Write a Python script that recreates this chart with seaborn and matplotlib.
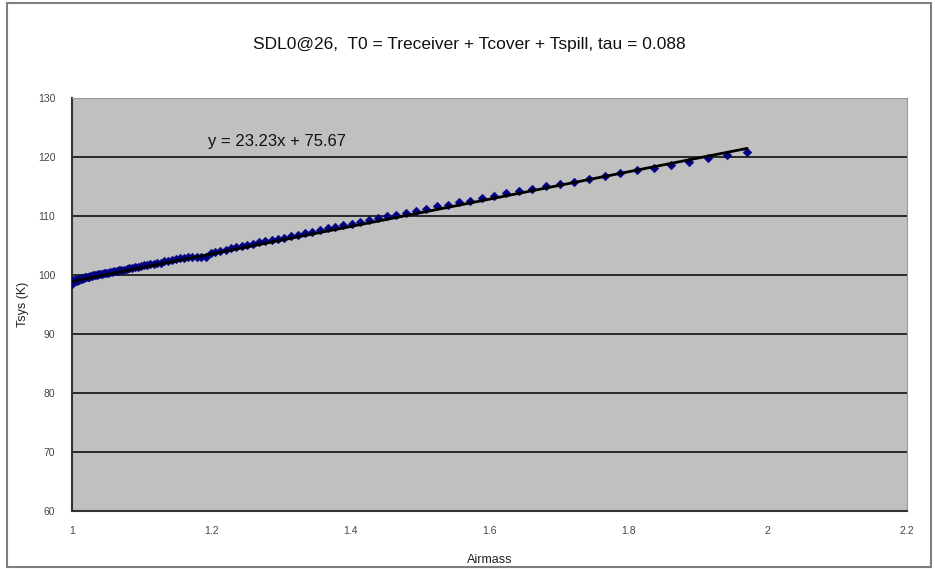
import matplotlib
matplotlib.use("Agg")
import matplotlib.pyplot as plt
import seaborn as sns
import pandas as pd
from matplotlib.patches import Rectangle

# ---- data ----
airmass = [
    1.00000, 1.00004, 1.00015, 1.00034, 1.00061, 1.00095, 1.00137, 1.00187, 1.00244, 1.00309,
    1.00382, 1.00463, 1.00551, 1.00647, 1.00751, 1.00863, 1.00983, 1.01111, 1.01247, 1.01390,
    1.01543, 1.01703, 1.01872, 1.02049, 1.02234, 1.02428, 1.02630, 1.02841, 1.03061, 1.03290,
    1.03528, 1.03774, 1.04030, 1.04295, 1.04569, 1.04853, 1.05146, 1.05449, 1.05762, 1.06085,
    1.06418, 1.06761, 1.07114, 1.07478, 1.07853, 1.08239, 1.08636, 1.09044, 1.09464, 1.09895,
    1.10338, 1.10793, 1.11260, 1.11740, 1.12233, 1.12738, 1.13257, 1.13789, 1.14335, 1.14896,
    1.15470, 1.16059, 1.16663, 1.17282, 1.17918, 1.18569, 1.19236, 1.19920, 1.20622, 1.21341,
    1.22077, 1.22833, 1.23607, 1.24400, 1.25214, 1.26047, 1.26902, 1.27778, 1.28676, 1.29597,
    1.30541, 1.31509, 1.32501, 1.33519, 1.34563, 1.35634, 1.36733, 1.37860, 1.39016, 1.40203,
    1.41421, 1.42672, 1.43956, 1.45274, 1.46628, 1.48019, 1.49448, 1.50916, 1.52425, 1.53977,
    1.55572, 1.57213, 1.58902, 1.60639, 1.62427, 1.64268, 1.66164, 1.68117, 1.70130, 1.72205,
    1.74345, 1.76552, 1.78829, 1.81180, 1.83608, 1.86116, 1.88708, 1.91388, 1.94160, 1.97029,
]
tsys = [
    98.6, 98.4, 98.7, 98.9, 98.6, 99.0, 98.8, 99.1, 98.9, 99.0,
    99.2, 98.9, 99.1, 99.2, 99.0, 99.3, 99.2, 99.3, 99.4, 99.3,
    99.5, 99.5, 99.6, 99.6, 99.7, 99.7, 99.8, 99.8, 99.9, 100.0,
    100.0, 100.1, 100.1, 100.2, 100.3, 100.3, 100.4, 100.5, 100.5, 100.6,
    100.7, 100.8, 100.8, 100.9, 101.0, 101.1, 101.2, 101.3, 101.4, 101.5,
    101.6, 101.7, 101.8, 101.9, 102.0, 102.1, 102.3, 102.4, 102.5, 102.7,
    102.8, 102.9, 103.0, 103.0, 103.0, 103.0, 103.1, 103.7, 103.9, 104.1,
    104.3, 104.5, 104.7, 104.9, 105.1, 105.3, 105.5, 105.7, 105.9, 106.1,
    106.3, 106.6, 106.8, 107.1, 107.3, 107.6, 107.9, 108.1, 108.4, 108.7,
    109.0, 109.3, 109.6, 109.9, 110.2, 110.5, 110.9, 111.2, 111.6, 111.9,
    112.3, 112.6, 113.0, 113.4, 113.8, 114.2, 114.6, 115.0, 115.4, 115.8,
    116.2, 116.7, 117.2, 117.7, 118.2, 118.7, 119.2, 119.8, 120.3, 120.9,
]
fit_slope = 23.23
fit_intercept = 75.67
x_ticks = [1, 1.2, 1.4, 1.6, 1.8, 2, 2.2]
x_tick_labels = ["1", "1.2", "1.4", "1.6", "1.8", "2", "2.2"]
y_ticks = [60, 70, 80, 90, 100, 110, 120, 130]

df = pd.DataFrame({"Airmass": airmass, "Tsys": tsys})
fit_x = [min(airmass), max(airmass)]
fit_df = pd.DataFrame({"Airmass": fit_x,
                       "Fit": [fit_slope * v + fit_intercept for v in fit_x]})

sns.set_theme(style="white")
plt.rcParams["font.family"] = ["Liberation Sans", "DejaVu Sans"]

fig = plt.figure(figsize=(9.35, 5.69), dpi=100)
fig.patch.set_facecolor("white")
fig.add_artist(Rectangle((0.008, 0.004), 0.988, 0.99, transform=fig.transFigure,
                         fill=False, edgecolor="#7f7f7f", linewidth=1.5))

ax = fig.add_axes([0.077, 0.102, 0.893, 0.726])
ax.set_facecolor("#c0c0c0")

for yt in y_ticks[1:-1]:
    ax.axhline(yt, color="black", linewidth=1.1, zorder=1)

sns.scatterplot(data=df, x="Airmass", y="Tsys", ax=ax, marker="D", s=20,
                color="#000080", edgecolor="#000080", linewidth=0.3, zorder=3)
sns.lineplot(data=fit_df, x="Airmass", y="Fit", ax=ax, color="black",
             linewidth=2.0, zorder=4)

ax.set_xlim(1, 2.2)
ax.set_ylim(60, 130)
ax.set_xticks(x_ticks)
ax.set_xticklabels(x_tick_labels)
ax.set_yticks(y_ticks)
ax.tick_params(axis="both", length=0, labelsize=7.5, colors="#444444")
ax.tick_params(axis="x", pad=11)
ax.tick_params(axis="y", pad=12)
for s in ["top", "right"]:
    ax.spines[s].set_color("#9a9a9a")
    ax.spines[s].set_linewidth(0.8)
for s in ["left", "bottom"]:
    ax.spines[s].set_color("#333333")
    ax.spines[s].set_linewidth(1.5)

ax.set_xlabel("Airmass", fontsize=9, color="#222222", labelpad=13)
ax.set_ylabel("Tsys (K)", fontsize=9, color="#222222", labelpad=6)

ax.text(1.195, 122.6, "y = 23.23x + 75.67", fontsize=12, color="#111111",
        ha="left", va="center", zorder=5)
fig.text(0.502, 0.922, "SDL0@26,  T0 = Treceiver + Tcover + Tspill, tau = 0.088",
         fontsize=12.5, color="#111111", ha="center", va="center")

fig.savefig("out.png", dpi=100)
